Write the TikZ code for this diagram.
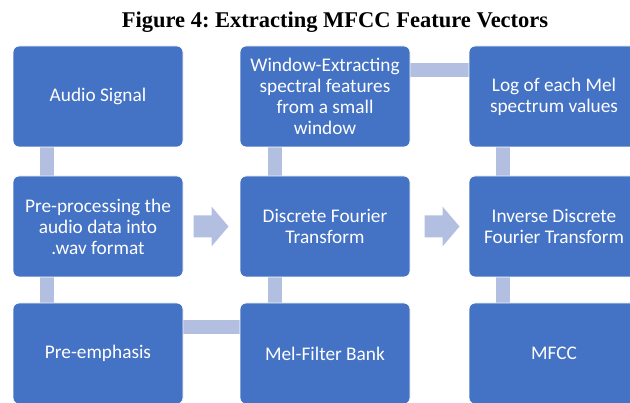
\documentclass[tikz,border=0pt]{standalone}
\usepackage{fontspec}
\setmainfont{Carlito}
\newfontfamily\titlefont{Liberation Serif}
\usetikzlibrary{calc,backgrounds}
\definecolor{boxblue}{HTML}{4472C4}
\definecolor{barblue}{HTML}{B2BFE0}
\frenchspacing
\begin{document}
\begin{tikzpicture}[x=1pt,y=-1pt,
  stepbox/.style={rectangle, rounded corners=6pt, fill=boxblue, draw=white, line width=0.8pt,
    minimum width=170pt, minimum height=101pt, text=white, align=center,
    font=\fontsize{19.3}{21}\selectfont, inner sep=0pt},
  bar/.style={draw=barblue, line width=14pt},
  blockarrow/.style={fill=barblue, draw=none}]
\useasboundingbox (0,0) rectangle (630,403);
\clip (0,0) rectangle (630,403);
\node[font=\titlefont\bfseries\fontsize{22.5}{25}\selectfont, anchor=base] (title) at (335,27.5) {Figure 4: Extracting MFCC Feature Vectors};
\node[stepbox] (audio) at (98,96.5) {Audio Signal};
\node[stepbox] (prep) at (98,226.5) {Pre-processing the\\audio data into\\.wav format};
\node[stepbox] (preemph) at (98,353.5) {Pre-emphasis};
\node[stepbox] (window) at (325,96.5) {Window-Extracting\\spectral features\\from a small\\window};
\node[stepbox] (dft) at (325,226.5) {Discrete Fourier\\Transform};
\node[stepbox] (mel) at (325,353.5) {Mel-Filter Bank};
\node[stepbox] (log) at (554,96.5) {Log of each Mel\\spectrum values};
\node[stepbox] (idft) at (554,226.5) {Inverse Discrete\\Fourier Transform};
\node[stepbox] (mfcc) at (554,353.5) {MFCC};
\begin{scope}[on background layer]
\draw[bar] ($(audio.south west)+(34,0)$) -- ($(prep.north west)+(34,0)$);
\draw[bar] ($(prep.south west)+(34,0)$) -- ($(preemph.north west)+(34,0)$);
\draw[bar] ($(preemph.north east)+(0,24)$) -- ($(mel.north west)+(0,24)$);
\draw[bar] ($(mel.north west)+(35,0)$) -- ($(dft.south west)+(35,0)$);
\draw[bar] ($(dft.north west)+(35,0)$) -- ($(window.south west)+(35,0)$);
\draw[bar] ($(window.north east)+(0,24)$) -- ($(log.north west)+(0,24)$);
\draw[bar] ($(log.south west)+(34,0)$) -- ($(idft.north west)+(34,0)$);
\draw[bar] ($(idft.south west)+(34,0)$) -- ($(mfcc.north west)+(34,0)$);
\end{scope}
\coordinate (m1) at ($(prep.east)!0.5!(dft.west)$);
\coordinate (m2) at ($(dft.east)!0.5!(idft.west)$);
\fill[blockarrow, shift={(m1)}] (-18,-11) -- (0,-11) -- (0,-20) -- (17,0) -- (0,20) -- (0,11) -- (-18,11) -- cycle;
\fill[blockarrow, shift={(m2)}, xshift=3pt] (-18,-11) -- (0,-11) -- (0,-20) -- (17,0) -- (0,20) -- (0,11) -- (-18,11) -- cycle;
\end{tikzpicture}
\end{document}
